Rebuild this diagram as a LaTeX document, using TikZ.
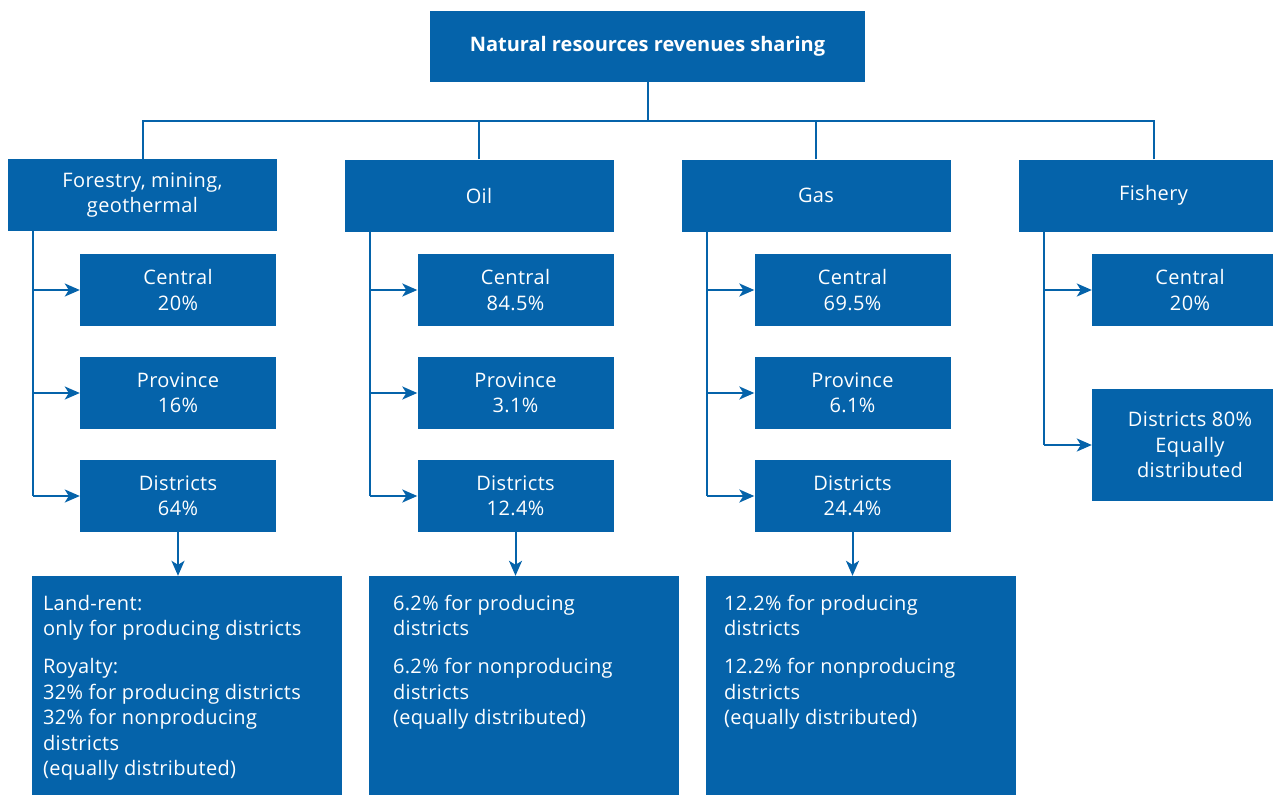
\documentclass[tikz,border=0pt]{standalone}
\usepackage{fontspec}
\setmainfont{Open Sans}[LetterSpace=1.8, BoldFeatures={LetterSpace=0}]
\usetikzlibrary{arrows.meta}
\definecolor{wbblue}{HTML}{0563AA}
\newcommand{\lowtext}[2]{\begin{minipage}[c][219pt][t]{310pt}\leftskip=#1pt\relax\vspace*{19pt}#2\end{minipage}}
\tikzset{
  box/.style={fill=wbblue, text=white, inner sep=0pt, align=center, font=\fontsize{20}{25.5}\selectfont},
  lvlone/.style={box, minimum width=269pt, minimum height=72pt},
  lvltwo/.style={box, minimum width=196pt, minimum height=72pt},
  lowbox/.style={box, minimum width=310pt, minimum height=219pt, align=left},
  conn/.style={draw=wbblue, line width=2pt},
  arr/.style={conn, -{Stealth[length=15pt,width=13pt,inset=4pt]}},
}
\begin{document}
\begin{tikzpicture}[x=1pt,y=-1pt]
\useasboundingbox (0,0) rectangle (1273,795);
\begin{scope}
\clip (0,0) rectangle (1273,795);
\node[box, minimum width=435pt, minimum height=71pt, font=\fontsize{20}{25.5}\selectfont\bfseries] (top) at (647.5,46.5) {Natural resources revenues sharing};

\node[lvlone] (fo) at (142.5,195) {Forestry, mining,\\geothermal};
\node[lvlone] (oi) at (479,195.5) {Oil};
\node[lvlone] (ga) at (816,195.5) {Gas};
\node[lvlone] (fi) at (1153.5,195.5) {Fishery};

% forestry column
\node[lvltwo] (foc) at (178,290) {Central\\20\%};
\node[lvltwo] (fop) at (178,393) {Province\\16\%};
\node[lvltwo] (fod) at (178,496) {Districts\\64\%};
% oil column
\node[lvltwo] (oic) at (515.5,290) {Central\\84.5\%};
\node[lvltwo] (oip) at (515.5,393) {Province\\3.1\%};
\node[lvltwo] (oid) at (515.5,496) {Districts\\12.4\%};
% gas column
\node[lvltwo] (gac) at (852.5,290) {Central\\69.5\%};
\node[lvltwo] (gap) at (852.5,393) {Province\\6.1\%};
\node[lvltwo] (gad) at (852.5,496) {Districts\\24.4\%};
% fishery column
\node[lvltwo] (fic) at (1190,290) {Central\\20\%};
\node[lvltwo, minimum height=112pt] (fid) at (1190,445) {Districts 80\%\\Equally\\distributed};

% lower boxes
\node[lowbox] (fol) at (187,685.5) {\lowtext{11}{Land-rent:\\only for producing districts\\[12.5pt]Royalty:\\32\% for producing districts\\32\% for nonproducing\\districts\\(equally distributed)}};
\node[lowbox] (oil) at (524,685.5) {\lowtext{24}{6.2\% for producing\\districts\\[12.5pt]6.2\% for nonproducing\\districts\\(equally distributed)}};
\node[lowbox] (gal) at (861,685.5) {\lowtext{18}{12.2\% for producing\\districts\\[12.5pt]12.2\% for nonproducing\\districts\\(equally distributed)}};

% top tree
\coordinate (hub) at (647.5,121);
\draw[conn] (top.south) -- (hub);
\draw[conn] (fo.north) |- (hub);
\draw[conn] (oi.north) |- (hub);
\draw[conn] (ga.north) |- (hub);
\draw[conn] (fi.north) |- (hub);

% side connectors
\coordinate (foline) at (33,231);
\draw[conn] (foline) -- (33,496);
\draw[arr] (foline |- foc.west) -- (foc.west);
\draw[arr] (foline |- fop.west) -- (fop.west);
\draw[arr] (foline |- fod.west) -- (fod.west);

\coordinate (oiline) at (370,231);
\draw[conn] (oiline) -- (370,496);
\draw[arr] (oiline |- oic.west) -- (oic.west);
\draw[arr] (oiline |- oip.west) -- (oip.west);
\draw[arr] (oiline |- oid.west) -- (oid.west);

\coordinate (galine) at (707,231);
\draw[conn] (galine) -- (707,496);
\draw[arr] (galine |- gac.west) -- (gac.west);
\draw[arr] (galine |- gap.west) -- (gap.west);
\draw[arr] (galine |- gad.west) -- (gad.west);

\coordinate (filine) at (1044,231);
\draw[conn] (filine) -- (1044,445);
\draw[arr] (filine |- fic.west) -- (fic.west);
\draw[arr] (filine |- fid.west) -- (fid.west);

% down arrows
\draw[arr] (fod.south) -- (fod.south |- fol.north);
\draw[arr] (oid.south) -- (oid.south |- oil.north);
\draw[arr] (gad.south) -- (gad.south |- gal.north);
\end{scope}
\end{tikzpicture}
\end{document}
